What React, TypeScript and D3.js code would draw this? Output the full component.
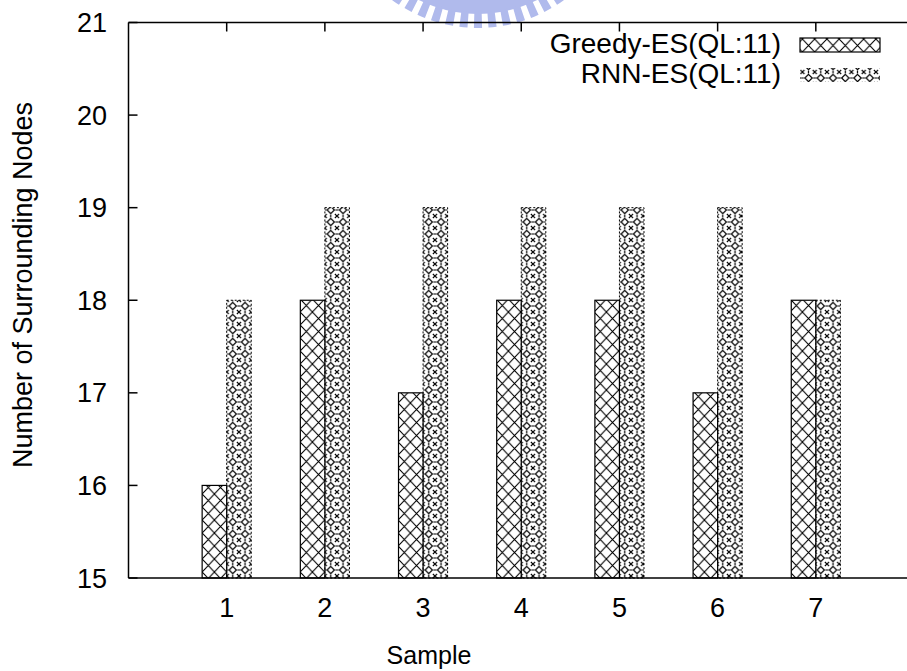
import React from "react";
import * as d3 from "d3";

const samples = ["1", "2", "3", "4", "5", "6", "7"];
const greedy = [16, 18, 17, 18, 18, 17, 18];
const rnn = [18, 19, 19, 19, 19, 19, 18];
const yTicks = [15, 16, 17, 18, 19, 20, 21];
const seriesNames = ["Greedy-ES(QL:11)", "RNN-ES(QL:11)"];

const W = 907;
const H = 671;
const FONT = "Liberation Sans, Arial, sans-serif";

export default function App() {
  const x = d3.scaleLinear().domain([0, 8]).range([128.5, 914]);
  const y = d3.scaleLinear().domain([15, 21]).range([578, 22.5]);
  const bw = x(0.25) - x(0);

  // watermark gear arc
  const cx = 478, cy = -118;
  const band = d3.arc()({ innerRadius: 118, outerRadius: 132, startAngle: Math.PI / 2 + 0.2, endAngle: Math.PI * 1.5 - 0.2 }) as string;
  const teeth: string[] = [];
  for (let i = -6; i <= 6; i++) {
    const a = Math.PI + i * 0.1;
    teeth.push(d3.arc()({ innerRadius: 130, outerRadius: 146, startAngle: a - 0.028, endAngle: a + 0.028 }) as string);
  }

  return (
    <div style={{ position: "fixed", left: 0, top: 0 }}>
      <svg width={W} height={H} style={{ display: "block", background: "#fff" }}>
        <defs>
          <pattern id="pg" patternUnits="userSpaceOnUse" width={12.25} height={13} x={x(1) - bw} y={0}>
            <path d="M0,0 L12.25,13 M12.25,0 L0,13" stroke="#000" strokeWidth={1.1} fill="none" />
          </pattern>
          <pattern id="pr" patternUnits="userSpaceOnUse" width={12.25} height={12} x={x(1)} y={0}>
            <path d="M6.1,2.4 L9.7,6 L6.1,9.6 L2.5,6 Z" stroke="#000" strokeWidth={1.2} fill="none" />
            <path d="M-2,-2 L2,2 M2,-2 L-2,2 M10.25,-2 L14.25,2 M14.25,-2 L10.25,2 M-2,10 L2,14 M2,10 L-2,14 M10.25,10 L14.25,14 M14.25,10 L10.25,14" stroke="#000" strokeWidth={1.2} fill="none" />
            <path d="M0,6 L1.6,6 M10.65,6 L12.25,6 M6.1,0 L6.1,1.4 M6.1,10.6 L6.1,12" stroke="#000" strokeWidth={1.2} />
          </pattern>
        </defs>

        <g transform={`translate(${cx},${cy})`} fill="#b0baec">
          <path d={band} />
          {teeth.map((t, i) => (
            <path key={i} d={t} />
          ))}
        </g>

        {/* bars */}
        {samples.map((s, i) => (
          <g key={s}>
            <rect x={x(i + 1) - bw} y={y(greedy[i])} width={bw} height={y(15) - y(greedy[i])} fill="url(#pg)" stroke="#000" strokeWidth={1.2} />
            <rect x={x(i + 1)} y={y(rnn[i])} width={bw} height={y(15) - y(rnn[i])} fill="url(#pr)" stroke="#000" strokeWidth={1} strokeDasharray="2,2" />
          </g>
        ))}

        {/* frame */}
        <g stroke="#000" strokeWidth={1.5} fill="none">
          <line x1={x(0)} y1={y(21)} x2={x(0)} y2={y(15)} />
          <line x1={x(0)} y1={y(21)} x2={W + 10} y2={y(21)} />
          <line x1={x(0)} y1={y(15)} x2={W + 10} y2={y(15)} />
          {yTicks.map((t) => (
            <line key={t} x1={x(0)} x2={x(0) + 9} y1={y(t)} y2={y(t)} />
          ))}
          {samples.map((s, i) => (
            <line key={s} x1={x(i + 1)} x2={x(i + 1)} y1={y(21)} y2={y(21) + 9} />
          ))}
        </g>

        {/* tick labels */}
        <g fontFamily={FONT} fontSize={27} fill="#000">
          {yTicks.map((t) => (
            <text key={t} x={107} y={y(t) + 9.5} textAnchor="end">{t}</text>
          ))}
          {samples.map((s, i) => (
            <text key={s} x={x(i + 1)} y={617} textAnchor="middle">{s}</text>
          ))}
          <text x={429} y={664} textAnchor="middle" fontSize={25}>Sample</text>
          <text transform={`translate(32,285) rotate(-90)`} textAnchor="middle">Number of Surrounding Nodes</text>
        </g>

        {/* legend */}
        <g fontFamily={FONT} fontSize={28}>
          <text x={781} y={53} textAnchor="end">{seriesNames[0]}</text>
          <rect x={800} y={38} width={80} height={14} fill="url(#pg)" stroke="#000" strokeWidth={1.2} />
          <text x={781} y={83} textAnchor="end">{seriesNames[1]}</text>
          <rect x={800} y={68} width={80} height={14} fill="url(#pr)" />
        </g>
      </svg>
    </div>
  );
}
